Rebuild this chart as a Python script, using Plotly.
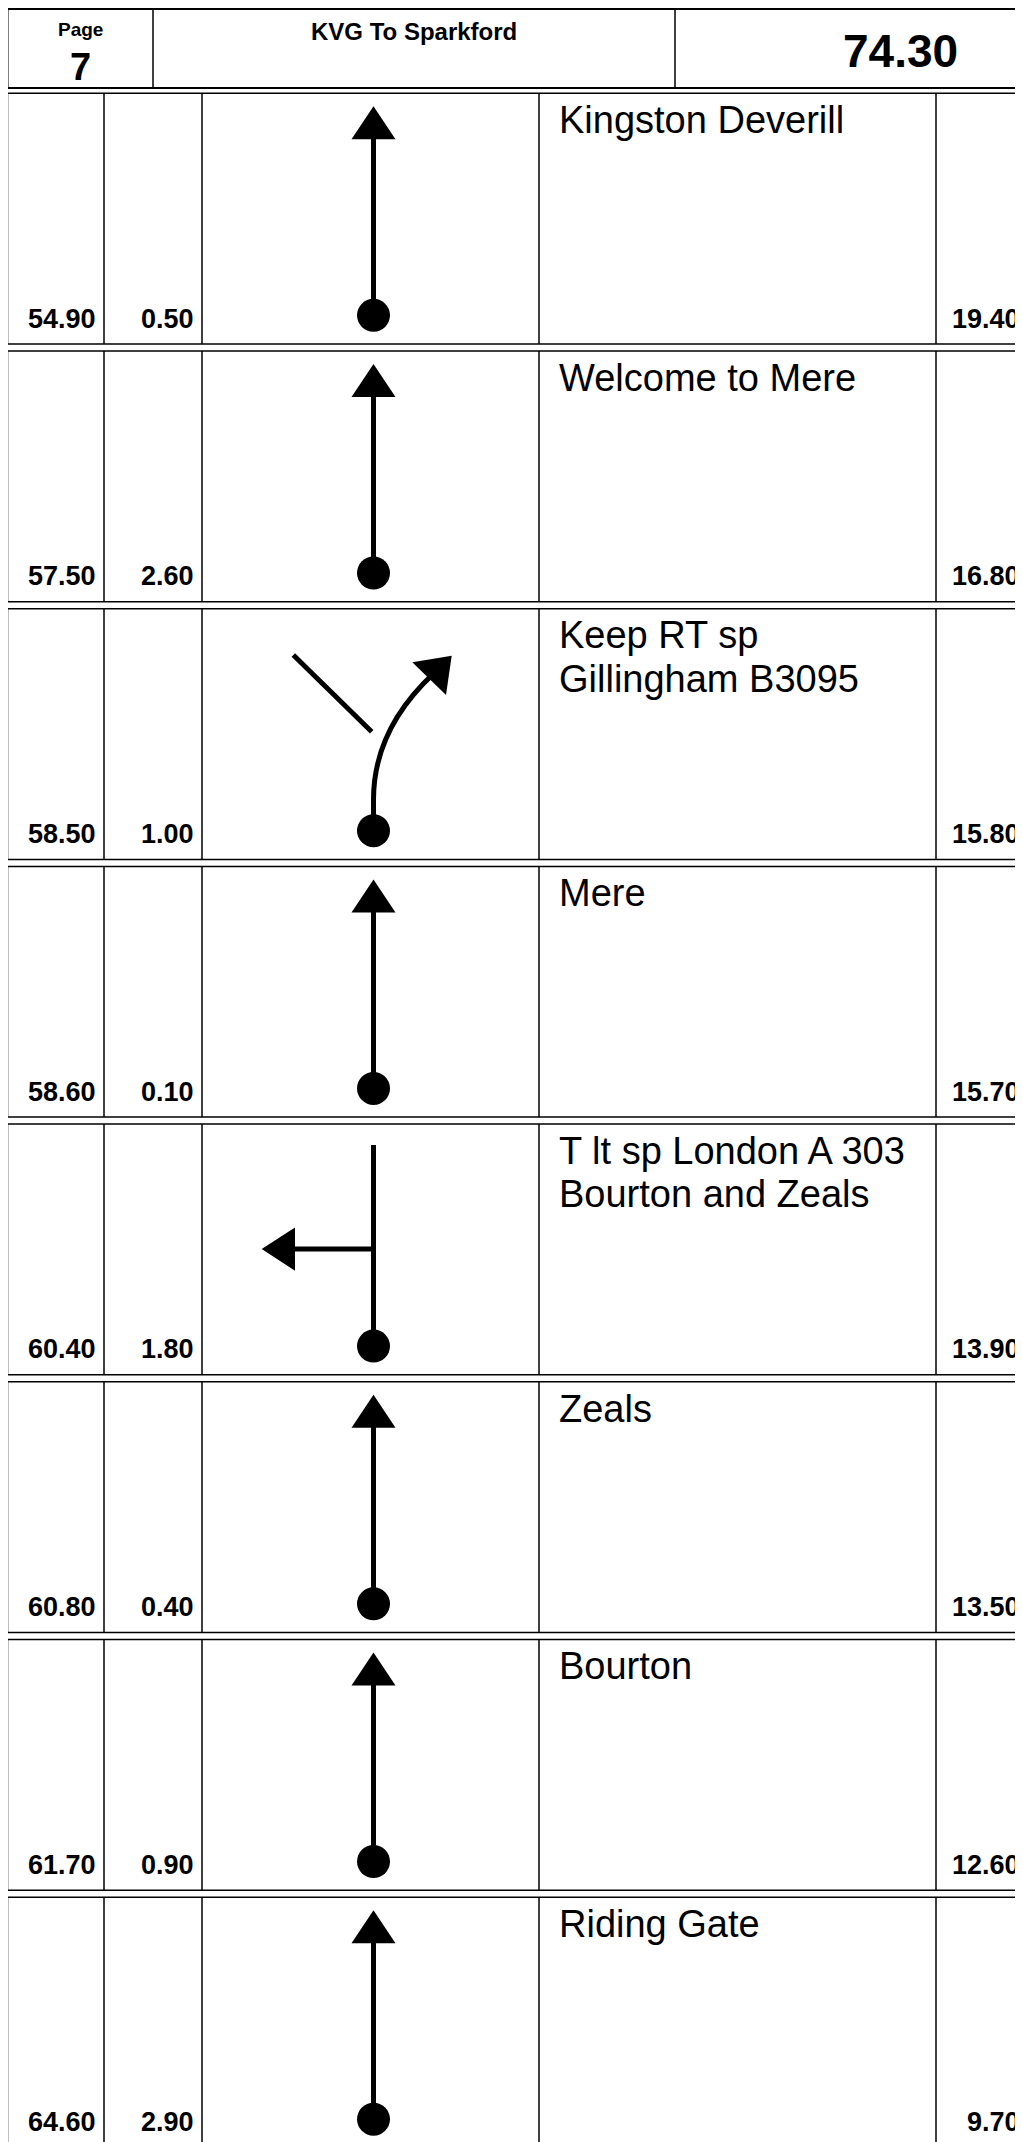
import plotly.graph_objects as go

# roadbook page data
page_no = 7
title = "KVG To Sparkford"
stage_total = 74.30

totals = [54.90, 57.50, 58.50, 58.60, 60.40, 60.80, 61.70, 64.60]
intervals = [0.50, 2.60, 1.00, 0.10, 1.80, 0.40, 0.90, 2.90]
remaining = [19.40, 16.80, 15.80, 15.70, 13.90, 13.50, 12.60, 9.70]
instructions = [
    ["Kingston Deverill"],
    ["Welcome to Mere"],
    ["Keep RT sp", "Gillingham B3095"],
    ["Mere"],
    ["T lt sp London A 303", "Bourton and Zeals"],
    ["Zeals"],
    ["Bourton"],
    ["Riding Gate"],
]
icons = ["straight", "straight", "keep_right", "straight", "t_left",
         "straight", "straight", "straight"]

# page geometry (screen pixels, page has an 8px body margin)
W, H = 1023, 2142
OFF = 8
ROW_TOP0 = 93.3
ROW_PITCH = 257.7
ROW_H = 250.7
COLS = [104, 202, 539, 936]
CX = 373.5
LEFT = 7.5
FAR = 1200

SANS = "Liberation Sans, Arial, Helvetica, sans-serif"

fig = go.Figure()
shapes = []
annotations = []


def line(x0, y0, x1, y1, w=1.5):
    shapes.append(dict(type="line", x0=x0, y0=y0, x1=x1, y1=y1,
                       line=dict(color="black", width=w)))


def text(x, baseline, s, size, xanchor="center", bold=False):
    annotations.append(dict(
        x=x, y=baseline - 0.35 * size, text=s, showarrow=False,
        xanchor=xanchor, yanchor="middle",
        font=dict(size=size, family=SANS, color="black",
                  weight="bold" if bold else "normal"),
    ))


def tri(pts):
    p = "M " + " L ".join(f"{x},{y}" for x, y in pts) + " Z"
    shapes.append(dict(type="path", path=p, fillcolor="black",
                       line=dict(color="black", width=0)))


def dot(x, y, r=16.5):
    shapes.append(dict(type="circle", x0=x - r, x1=x + r, y0=y - r, y1=y + r,
                       fillcolor="black", line=dict(width=0)))


# header
shapes.append(dict(type="rect", x0=LEFT, y0=9, x1=FAR, y1=88,
                   line=dict(color="black", width=2)))
line(153, 9, 153, 88)
line(675, 9, 675, 88)
text(80, 36, "Page", 19, bold=True)
text(80, 80, str(page_no), 38, bold=True)
text(414, 40, title, 24, bold=True)
text(900, 67, f"{stage_total:.2f}", 46, bold=True)

# rows
for i in range(len(totals)):
    T = ROW_TOP0 + i * ROW_PITCH
    B = T + ROW_H
    shapes.append(dict(type="rect", x0=LEFT, y0=T, x1=FAR, y1=B,
                       line=dict(color="black", width=1.5)))
    for c in COLS:
        line(c, T, c, B)

    base = T + 234.7
    text(98, base, f"{totals[i]:.2f}", 27, "right", True)
    text(196, base, f"{intervals[i]:.2f}", 27, "right", True)
    text(1022, base, f"{remaining[i]:.2f}", 27, "right", True)

    for k, s in enumerate(instructions[i]):
        text(557, T + 40 + 43.3 * k, s, 38, "left")

    kind = icons[i]
    if kind == "straight":
        line(CX, T + 222, CX, T + 44, 5)
        tri([(CX, T + 13), (CX - 22, T + 46), (CX + 22, T + 46)])
    elif kind == "keep_right":
        shapes.append(dict(
            type="path",
            path=f"M {CX},{T + 222} L {CX},{T + 191} Q {CX},{T + 121} {CX + 60},{T + 65}",
            line=dict(color="black", width=5)))
        tri([(451.7, T + 47), (412.3, T + 53.6), (446, T + 86.3)])
        shapes.append(dict(type="path", path=f"M 293.3,{T + 46.3} L 371.7,{T + 123}",
                           line=dict(color="black", width=5)))
    elif kind == "t_left":
        line(CX, T + 222, CX, T + 21, 5)
        line(CX, T + 125, 293, T + 125, 5)
        tri([(261.7, T + 125), (295, T + 103.3), (295, T + 146.7)])
    dot(CX, T + 222)

fig.update_layout(
    width=W - OFF, height=H - OFF,
    margin=dict(l=0, r=0, t=0, b=0),
    paper_bgcolor="white", plot_bgcolor="white",
    xaxis=dict(range=[OFF, W], visible=False, fixedrange=True),
    yaxis=dict(range=[H, OFF], visible=False, fixedrange=True),
    shapes=shapes, annotations=annotations,
    showlegend=False,
)

fig.write_html("out.html")
